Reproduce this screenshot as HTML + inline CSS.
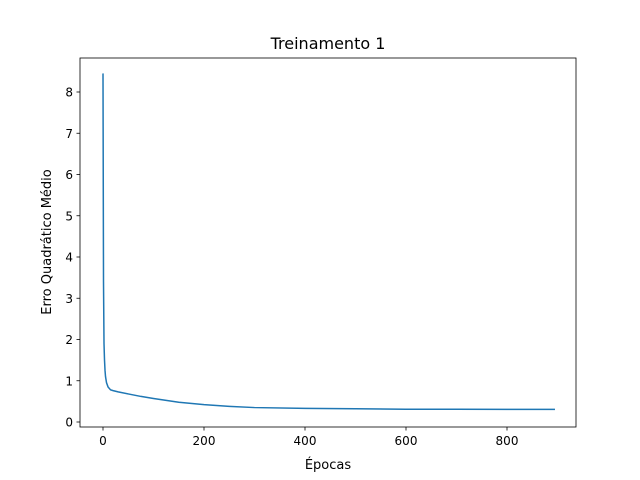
<!DOCTYPE html>
<html><head><meta charset="utf-8"><style>body{margin:0;background:#fff}svg{display:block;font-family:"DejaVu Sans","Liberation Sans",sans-serif}</style></head>
<body>
<svg id="chart" width="640" height="480">
<rect x="0" y="0" width="640" height="480" fill="#fff"/>
<text x="328" y="49" text-anchor="middle" font-size="16">Treinamento 1</text>
<g id="axes"></g>
<rect x="80" y="58" width="496" height="369" fill="none" stroke="#000" stroke-width="0.8"/>
<text x="328" y="469" text-anchor="middle" font-size="13">Épocas</text>
<text transform="translate(51,242) rotate(-90)" text-anchor="middle" font-size="13">Erro Quadrático Médio</text>
</svg>
<script>
const epochs=[0,1,2,3,4,5,7,10,15,20,30,50,75,100,150,200,250,300,400,500,600,700,800,895];
const errors=[8.45,3.4,1.9,1.5,1.25,1.1,0.95,0.85,0.78,0.76,0.73,0.68,0.62,0.57,0.48,0.42,0.38,0.35,0.33,0.32,0.31,0.31,0.305,0.305];
const xTicks=[0,200,400,600,800];
const yTicks=[0,1,2,3,4,5,6,7,8];
const NS="http://www.w3.org/2000/svg";
const xs=v=>103+v*0.505;
const ys=v=>422-v*41.25;
const g=document.getElementById('axes');
function mk(t,a){const e=document.createElementNS(NS,t);for(const k in a)e.setAttribute(k,a[k]);g.appendChild(e);return e;}
xTicks.forEach(t=>{
 const l=mk('line',{x1:xs(t),x2:xs(t),y1:427,y2:430.5,stroke:'#000','stroke-width':0.8});
 
 
 const tx=mk('text',{x:xs(t),y:445,'text-anchor':'middle','font-size':12});
 tx.textContent=t;
 
 
});
yTicks.forEach(t=>{
 const l=mk('line',{x1:76.5,x2:80,y1:ys(t),y2:ys(t),stroke:'#000','stroke-width':0.8});
 
 
 const tx=mk('text',{x:73,y:ys(t)+4.5,'text-anchor':'end','font-size':12});
 tx.textContent=t;
 
 
});
const p=mk('polyline',{points:epochs.map((e,i)=>xs(e)+','+ys(errors[i])).join(' '),fill:'none',stroke:'#1f77b4','stroke-width':1.5});


</script>
</body></html>
